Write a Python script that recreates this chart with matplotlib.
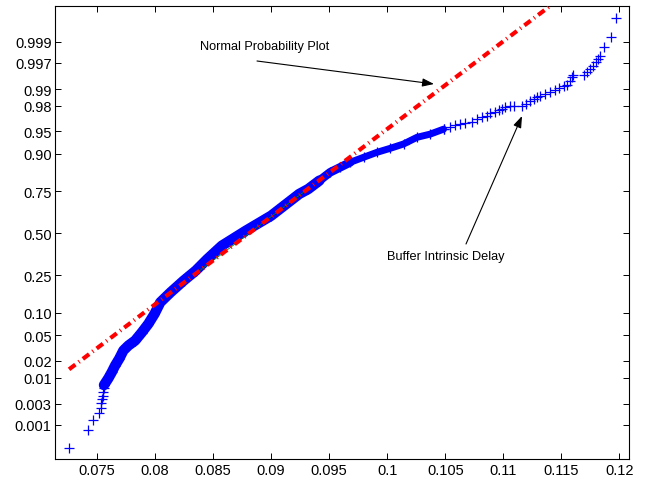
import numpy as np
import matplotlib
matplotlib.use("Agg")
import matplotlib.pyplot as plt
from matplotlib.ticker import FixedLocator, FixedFormatter, NullLocator
from statistics import NormalDist

# ---------------- data ----------------
# lower tail: individual markers
low_delay = [0.07259, 0.07425, 0.07463, 0.07515, 0.07532, 0.07532, 0.07543,
             0.07554, 0.07554, 0.07560, 0.07560]
low_prob = [0.000262, 0.000768, 0.0013, 0.00188, 0.00248, 0.00307, 0.00368,
            0.0044, 0.00516, 0.00621, 0.0072]

# dense central band (hundreds of overlapping markers)
band_delay = [0.07560, 0.07597, 0.07627, 0.07655, 0.07692, 0.07727, 0.07770,
              0.07828, 0.07885, 0.07942, 0.07995, 0.08045, 0.08135, 0.08245,
              0.08350, 0.08450, 0.08575, 0.08780, 0.09000, 0.09130, 0.09241,
              0.09320, 0.09415, 0.09508, 0.09595, 0.09681, 0.09796, 0.09911,
              0.10026, 0.10140, 0.10256, 0.10370, 0.10485]
band_prob = [0.0072, 0.00964, 0.01255, 0.01638, 0.0217, 0.0294, 0.0351,
             0.0418, 0.0548, 0.0721, 0.0968, 0.1329, 0.1711, 0.2221,
             0.2733, 0.339, 0.4207, 0.516, 0.6118, 0.6819, 0.737,
             0.7627, 0.8023, 0.8375, 0.8566, 0.8739, 0.8899, 0.9042,
             0.9148, 0.9251, 0.9392, 0.9452, 0.9535]

# upper tail: individual markers
high_delay = [0.104856, 0.105431, 0.105862, 0.106293, 0.106724, 0.107299,
              0.107730, 0.108161, 0.108592, 0.108879, 0.109310, 0.109597,
              0.109885, 0.110172, 0.110603, 0.110891, 0.111609, 0.111983,
              0.112328, 0.112615, 0.112902, 0.113190, 0.113621, 0.114052,
              0.114483, 0.114770, 0.115201, 0.115489, 0.115718, 0.115920,
              0.116006, 0.116925, 0.117213, 0.117443, 0.117730, 0.118017,
              0.118132, 0.118362, 0.118707, 0.119282, 0.119713]
high_prob = [0.9537, 0.9573, 0.9597, 0.9610, 0.9620, 0.9641,
             0.9674, 0.9693, 0.9711, 0.9735, 0.9751, 0.9767,
             0.9775, 0.9789, 0.9797, 0.9803, 0.9803, 0.9815,
             0.9838, 0.9848, 0.9858, 0.9864, 0.9877, 0.9888,
             0.98975, 0.9903, 0.99113, 0.99162, 0.99309, 0.99406,
             0.99466, 0.99466, 0.99543, 0.99598, 0.99646, 0.99709,
             0.99753, 0.99792, 0.99865, 0.999214, 0.999743]

# normal fit (reference line)
fit_mean = 0.0881
fit_std = 0.00707

x_ticks = [0.075, 0.08, 0.085, 0.09, 0.095, 0.1, 0.105, 0.11, 0.115, 0.12]
x_tick_labels = ["0.075", "0.08", "0.085", "0.09", "0.095", "0.1", "0.105",
                 "0.11", "0.115", "0.12"]
y_ticks = [0.001, 0.003, 0.01, 0.02, 0.05, 0.10, 0.25, 0.50, 0.75, 0.90,
           0.95, 0.98, 0.99, 0.997, 0.999]
y_tick_labels = ["0.001", "0.003", "0.01", "0.02", "0.05", "0.10", "0.25",
                 "0.50", "0.75", "0.90", "0.95", "0.98", "0.99", "0.997",
                 "0.999"]

# ---------------- probit scale helpers ----------------
_nd = NormalDist()
_inv = np.vectorize(_nd.inv_cdf, otypes=[float])
_cdf_v = np.vectorize(_nd.cdf, otypes=[float])


def probit(p):
    p = np.clip(np.asarray(p, dtype=float), 1e-12, 1 - 1e-12)
    if p.size == 0:
        return p
    return _inv(p)


def norm_cdf(z):
    z = np.asarray(z, dtype=float)
    if z.size == 0:
        return z
    return _cdf_v(z)


plt.rcParams["font.family"] = ["Liberation Sans", "DejaVu Sans"]

W, H = 652, 485
fig = plt.figure(figsize=(W / 100, H / 100), dpi=100)
L, R, T, B = 55, 629, 7, 460
ax = fig.add_axes([L / W, 1 - B / H, (R - L) / W, (B - T) / H])
ax.set_yscale("function", functions=(probit, norm_cdf))

blue = "#0000ff"
mk = dict(marker="+", ms=6.5, mew=0.9, color=blue, linestyle="none")

bx = np.array(band_delay)
bp = np.array(band_prob)
# dense band: stroke width follows how thickly the markers pile up
for lo, hi, lw in [(0.0, 0.0943, 7.5), (0.0941, 0.0970, 6.2),
                   (0.0967, 1.0, 5.0)]:
    m = (bx >= lo) & (bx <= hi)
    ax.plot(bx[m], bp[m], color=blue, lw=lw, solid_capstyle="round",
            solid_joinstyle="round", zorder=2)
ax.plot(band_delay, band_prob, zorder=2, **mk)
ax.plot(low_delay, low_prob, zorder=2, **mk)
ax.plot(high_delay, high_prob, zorder=2, **mk)

# reference line of the normal fit
all_x = low_delay + band_delay + high_delay
xr = np.array([min(all_x), max(all_x)])
ln, = ax.plot(xr, norm_cdf((xr - fit_mean) / fit_std), color="#ff0000",
              lw=3.0, zorder=4)
ln.set_linestyle((0, (1.9, 1.0, 0.25, 1.0)))
ln.set_dash_capstyle("butt")
xq = fit_mean + fit_std * probit([0.25, 0.75])
ax.plot(xq, norm_cdf((xq - fit_mean) / fit_std), color="#008000", lw=0.6,
        zorder=3)

ax.set_xlim(0.07138, 0.12082)
ax.set_ylim(norm_cdf(-3.64), norm_cdf(3.666))

ax.xaxis.set_major_locator(FixedLocator(x_ticks))
ax.xaxis.set_major_formatter(FixedFormatter(x_tick_labels))
ax.yaxis.set_major_locator(FixedLocator(y_ticks))
ax.yaxis.set_major_formatter(FixedFormatter(y_tick_labels))
ax.yaxis.set_minor_locator(NullLocator())
ax.xaxis.set_minor_locator(NullLocator())

ax.tick_params(direction="in", length=4.3, width=0.7, top=True, right=True,
               labelsize=10.5, colors="black")
ax.tick_params(axis="x", pad=3)
ax.tick_params(axis="y", pad=2.5)
for s in ax.spines.values():
    s.set_linewidth(0.8)
    s.set_color("black")


def fp(x, y):
    return (x / W, 1 - y / H)


fig.text(*fp(200, 47), "Normal Probability Plot", fontsize=9.2, ha="left",
         va="center")
fig.text(*fp(387, 257), "Buffer Intrinsic Delay", fontsize=9.2, ha="left",
         va="center")
arrow = dict(arrowstyle="-|>,head_length=0.7,head_width=0.25", color="black",
             lw=0.8, shrinkA=0, shrinkB=0)
ax.annotate("", xy=fp(434, 85), xytext=fp(257, 62),
            xycoords="figure fraction", textcoords="figure fraction",
            arrowprops=arrow)
ax.annotate("", xy=fp(522, 117), xytext=fp(466, 245),
            xycoords="figure fraction", textcoords="figure fraction",
            arrowprops=arrow)

fig.savefig("out.png", dpi=100)
